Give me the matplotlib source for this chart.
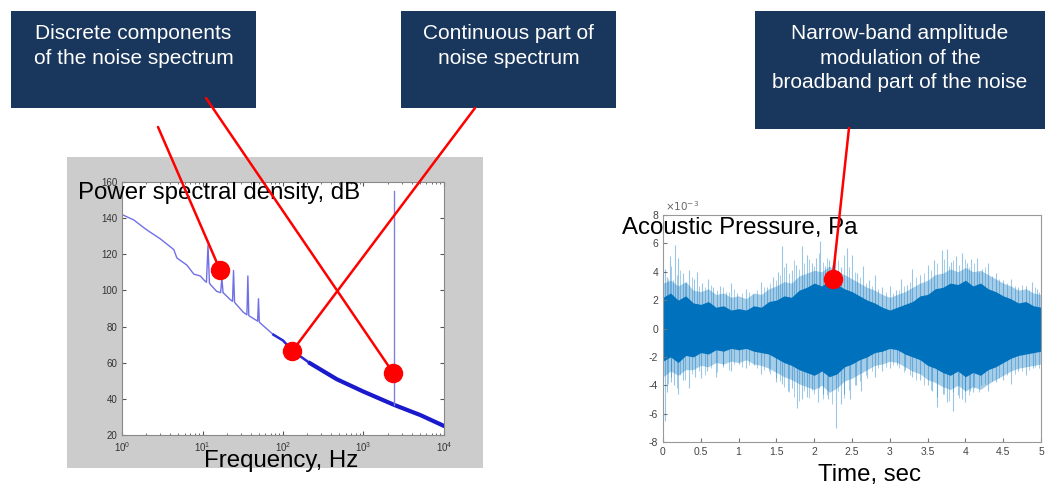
#!/usr/bin/env python3
'''
Noise spectrum and noise time signal, with call-out boxes.
'''
import matplotlib
matplotlib.use('Agg')
import matplotlib.pyplot as plt
from matplotlib.patches import Rectangle, ConnectionPatch
from matplotlib.ticker import LogLocator, NullFormatter
import numpy

plt.rcParams['font.family'] = ['Liberation Sans', 'DejaVu Sans']
plt.rcParams['axes.unicode_minus'] = False

# ---- power spectral density (left) ----
psd_f = [1, 1.4, 2, 3, 4.4, 4.8, 6.4, 7.8, 9.4, 10.5, 11.2, 11.7, 12.2, 12.7,
         15, 16.8, 17.4, 18.0, 18.3, 22, 23.6, 24.3, 25.0, 25.5, 32, 35.6,
         36.6, 37.6, 39, 48.4, 49.6, 50.8, 52, 76, 100, 131, 217, 464, 1000,
         2420, 5100, 10000]
psd_db = [142, 139, 133.7, 128.5, 122.6, 118, 114, 109, 108, 105.6, 104.5,
          125, 104, 103, 99.5, 98.8, 107, 98.6, 98.5, 95, 94, 111, 93.5, 93,
          88, 86.5, 108, 86, 85.6, 83, 95.4, 82.5, 82, 75.5, 72.3, 66.6, 59.7,
          50.9, 44, 36.6, 31, 25]
tone_f = 2420
tone_db = [36.6, 155]

# ---- acoustic pressure (right), units of 1e-3 Pa ----
core_t = [0.0, 0.1, 0.2, 0.3, 0.4, 0.5, 0.6, 0.7, 0.8, 0.9, 1.0, 1.1, 1.2,
          1.3, 1.4, 1.5, 1.6, 1.7, 1.8, 1.9, 2.0, 2.1, 2.2, 2.3, 2.4, 2.5,
          2.6, 2.7, 2.8, 2.9, 3.0, 3.1, 3.2, 3.3, 3.4, 3.5, 3.6, 3.7, 3.8,
          3.9, 4.0, 4.1, 4.2, 4.3, 4.4, 4.5, 4.6, 4.7, 4.8, 4.9, 5.0]
core_hi = [2.2, 2.5, 2.0, 2.3, 1.8, 1.7, 1.9, 1.5, 1.6, 1.3, 1.4, 1.3, 1.6,
           1.5, 1.9, 2.0, 2.3, 2.2, 2.7, 2.9, 3.2, 3.0, 3.4, 3.1, 2.8, 2.6,
           2.3, 2.0, 1.8, 1.5, 1.3, 1.5, 1.7, 1.9, 2.3, 2.4, 2.8, 2.9, 3.2,
           3.1, 3.4, 3.0, 3.2, 2.8, 2.6, 2.3, 2.1, 1.8, 1.9, 1.6, 1.5]
core_lo = [-2.3, -2.0, -2.4, -1.9, -2.0, -1.7, -1.8, -1.5, -1.6, -1.4, -1.5,
           -1.4, -1.6, -1.7, -1.8, -2.1, -2.4, -2.6, -2.9, -3.1, -3.3, -3.0,
           -3.4, -3.2, -2.7, -2.5, -2.2, -2.0, -1.7, -1.6, -1.4, -1.5, -1.8,
           -2.0, -2.2, -2.6, -2.8, -3.1, -3.3, -3.0, -3.4, -3.1, -3.3, -2.9,
           -2.7, -2.4, -2.1, -1.9, -1.8, -1.7, -1.6]
mid_hi = [3.2, 3.4, 3.0, 3.3, 2.7, 2.6, 2.8, 2.4, 2.5, 2.2, 2.3, 2.1, 2.5,
          2.4, 2.8, 3.0, 3.3, 3.2, 3.7, 3.9, 4.1, 4.0, 4.4, 4.0, 3.8, 3.5,
          3.2, 2.9, 2.7, 2.4, 2.2, 2.4, 2.6, 2.9, 3.2, 3.4, 3.8, 3.9, 4.2,
          4.0, 4.3, 4.0, 4.1, 3.8, 3.5, 3.2, 3.0, 2.7, 2.8, 2.5, 2.4]
mid_lo = [-3.4, -3.0, -3.3, -2.9, -2.9, -2.6, -2.7, -2.4, -2.5, -2.3, -2.4,
          -2.2, -2.5, -2.6, -2.8, -3.1, -3.4, -3.6, -3.9, -4.1, -4.3, -4.0,
          -4.5, -4.2, -3.7, -3.5, -3.2, -2.9, -2.6, -2.5, -2.3, -2.4, -2.7,
          -3.0, -3.2, -3.6, -3.8, -4.1, -4.3, -4.0, -4.4, -4.1, -4.3, -3.9,
          -3.6, -3.3, -3.0, -2.8, -2.7, -2.6, -2.5]
up_t = [0.02, 0.05, 0.09, 0.13, 0.16, 0.2, 0.26, 0.31, 0.35, 0.41, 0.45,
        0.52, 0.6, 0.66, 0.75, 0.83, 0.9, 0.98, 1.1, 1.19, 1.3, 1.38, 1.45,
        1.52, 1.57, 1.63, 1.7, 1.76, 1.84, 1.9, 1.97, 2.03, 2.08, 2.14, 2.2,
        2.27, 2.35, 2.43, 2.5, 2.57, 2.64, 2.72, 2.8, 2.9, 3.0, 3.08, 3.15,
        3.23, 3.3, 3.4, 3.5, 3.58, 3.69, 3.75, 3.81, 3.87, 3.95, 4.02, 4.08,
        4.15, 4.22, 4.3, 4.4, 4.5, 4.6, 4.7, 4.8, 4.88, 4.95]
up_v = [4.2, 3.6, 5.1, 3.4, 5.9, 5.0, 3.9, 3.3, 4.1, 3.5, 4.0, 3.2, 3.5,
        2.9, 3.0, 2.6, 3.2, 2.5, 2.8, 2.4, 3.3, 2.9, 3.6, 4.0, 5.8, 4.6,
        4.1, 4.5, 5.8, 5.2, 4.6, 5.0, 6.2, 4.4, 4.8, 5.1, 4.3, 5.7, 5.2,
        3.9, 4.4, 3.4, 3.8, 2.9, 3.0, 2.7, 3.5, 3.1, 4.2, 3.8, 4.5, 4.8,
        5.5, 5.6, 4.7, 5.1, 5.3, 4.6, 4.9, 5.0, 4.2, 4.6, 3.9, 3.4, 3.5,
        2.9, 3.0, 3.3, 2.8]
dn_t = [0.03, 0.05, 0.1, 0.15, 0.2, 0.27, 0.35, 0.42, 0.5, 0.58, 0.7, 0.8,
        0.9, 1.0, 1.1, 1.2, 1.3, 1.4, 1.5, 1.58, 1.65, 1.71, 1.77, 1.84,
        1.9, 1.97, 2.05, 2.12, 2.18, 2.29, 2.35, 2.4, 2.47, 2.55, 2.62, 2.7,
        2.8, 2.9, 3.0, 3.1, 3.2, 3.3, 3.4, 3.5, 3.56, 3.62, 3.7, 3.76, 3.84,
        3.9, 3.96, 4.0, 4.06, 4.1, 4.2, 4.3, 4.4, 4.5, 4.6, 4.7, 4.8, 4.9]
dn_v = [-6.5, -4.5, -3.8, -4.0, -4.6, -3.6, -4.2, -3.4, -3.5, -3.0, -3.4,
        -2.7, -3.0, -2.5, -2.8, -2.6, -3.2, -3.0, -3.8, -3.9, -4.4, -4.2,
        -5.6, -5.0, -4.8, -4.3, -5.2, -4.6, -5.0, -7.0, -5.3, -4.6, -5.0,
        -4.0, -4.4, -3.5, -3.4, -3.0, -2.8, -2.6, -2.9, -3.4, -3.6, -4.0,
        -4.4, -5.5, -4.6, -5.2, -5.8, -4.7, -5.0, -5.2, -4.4, -4.5, -4.0,
        -4.4, -3.8, -3.6, -3.9, -3.0, -3.3, -2.8]
extra_t = [0.07, 0.11, 0.18, 0.23, 0.29, 0.38, 0.48, 0.56, 0.63, 0.71, 0.79,
           0.87, 0.94, 1.04, 1.14, 1.24, 1.34, 1.42, 1.49, 1.55, 1.6, 1.67,
           1.73, 1.8, 1.87, 1.93, 2.0, 2.06, 2.11, 2.17, 2.24, 2.31, 2.39,
           2.46, 2.54, 2.61, 2.68, 2.76, 2.85, 2.95, 3.04, 3.12, 3.19, 3.27,
           3.35, 3.45, 3.54, 3.63, 3.72, 3.78, 3.84, 3.91, 3.99, 4.05, 4.12,
           4.18, 4.26, 4.35, 4.45, 4.55, 4.65, 4.75, 4.84, 4.92, 4.98]
extra_hi = [3.5, 4.4, 3.8, 4.1, 3.2, 3.6, 3.0, 2.9, 3.1, 2.7, 2.9, 2.6, 2.8,
            2.5, 2.6, 2.7, 2.9, 3.2, 3.4, 3.8, 4.3, 3.9, 4.8, 4.2, 4.6, 4.9,
            4.4, 5.3, 4.7, 5.0, 4.5, 4.8, 5.2, 4.3, 4.0, 3.6, 3.2, 3.0, 2.8,
            2.6, 2.5, 2.7, 3.0, 3.3, 3.6, 3.9, 4.1, 4.6, 4.9, 4.4, 4.8, 4.5,
            4.9, 4.3, 4.6, 4.0, 4.3, 3.7, 3.5, 3.2, 3.0, 3.1, 2.7, 2.9, 2.6]
extra_lo = [-3.9, -3.4, -4.2, -3.3, -3.6, -3.2, -3.0, -3.3, -2.8, -3.1, -2.6,
            -2.9, -2.5, -2.7, -2.6, -2.8, -2.9, -3.2, -3.5, -3.7, -4.1, -4.5,
            -4.8, -5.1, -4.4, -4.9, -4.6, -4.2, -5.0, -4.7, -5.3, -4.4, -4.9,
            -4.3, -4.0, -3.7, -3.3, -3.0, -2.8, -2.7, -2.6, -2.8, -3.1, -3.3,
            -3.6, -4.0, -4.3, -4.8, -4.6, -5.1, -4.5, -4.9, -4.4, -4.7, -4.2,
            -4.5, -3.9, -3.7, -3.5, -3.3, -3.2, -3.0, -2.9, -2.7, -2.8]
time_ticks = [0, 0.5, 1, 1.5, 2, 2.5, 3, 3.5, 4, 4.5, 5]
time_labels = ['0', '0.5', '1', '1.5', '2', '2.5', '3', '3.5', '4', '4.5', '5']
pa_ticks = [-8, -6, -4, -2, 0, 2, 4, 6, 8]

# ---- call-outs ----
box_text = ["Discrete components\nof the noise spectrum",
            "Continuous part of\nnoise spectrum",
            "Narrow-band amplitude\nmodulation of the\nbroadband part of the noise"]

W, H = 1050.0, 486.0


def fx(px):
    return px / W


def fy(py):
    return 1 - py / H


fig = plt.figure(figsize=(10.5, 4.86), dpi=100)

# gray matlab figure panel behind the spectrum
fig.patches.append(Rectangle((fx(67), fy(468)), fx(416), 311 / H,
                             transform=fig.transFigure, facecolor='#cccccc',
                             edgecolor='none', zorder=-5))

# ---- left: spectrum ----
ax1 = fig.add_axes([fx(122), fy(435), fx(322), 253 / H])
ax1.set_facecolor('white')
ax1.semilogx(psd_f, psd_db, color='#7070e6', lw=1.0)
sel = [i for i, f in enumerate(psd_f) if f >= 76]
ax1.plot([psd_f[i] for i in sel], [psd_db[i] for i in sel],
         color='#2a2ad8', lw=1.8)
sel = [i for i, f in enumerate(psd_f) if f >= 217]
ax1.plot([psd_f[i] for i in sel], [psd_db[i] for i in sel],
         color='#1a1acc', lw=3.0)
ax1.plot([tone_f, tone_f], tone_db, color='#8080e0', lw=1.0)
ax1.set_xlim(1, 1e4)
ax1.set_ylim(20, 160)
ax1.set_yticks(range(20, 161, 20))
ax1.xaxis.set_major_locator(LogLocator(base=10, numticks=10))
ax1.xaxis.set_minor_locator(LogLocator(base=10, subs=numpy.arange(2, 10),
                                       numticks=50))
ax1.xaxis.set_minor_formatter(NullFormatter())
ax1.tick_params(which='both', direction='in', top=True, right=True,
                labelsize=7, colors='#555555', labelcolor='#333333')
ax1.tick_params(which='major', length=3)
ax1.tick_params(which='minor', length=1.5)
for s in ax1.spines.values():
    s.set_color('#888888')
    s.set_linewidth(0.8)

# ---- right: time signal ----
ax2 = fig.add_axes([fx(663), fy(442), fx(378), 227 / H])
ax2.fill_between(core_t, mid_lo, mid_hi, color='#0072BD', lw=0, alpha=0.35)
ax2.vlines(up_t, 0, up_v, color='#0072BD', lw=0.8, alpha=0.4)
ax2.vlines(dn_t, 0, dn_v, color='#0072BD', lw=0.8, alpha=0.4)
ax2.vlines(extra_t, extra_lo, extra_hi, color='#0072BD', lw=0.6, alpha=0.4)
ax2.fill_between(core_t, core_lo, core_hi, color='#0072BD', lw=0)
ax2.set_xlim(0, 5)
ax2.set_ylim(-8, 8)
ax2.set_xticks(time_ticks)
ax2.set_xticklabels(time_labels)
ax2.set_yticks(pa_ticks)
ax2.set_yticklabels([str(v) for v in pa_ticks])
ax2.text(0.005, 1.01, r'$\times10^{-3}$', transform=ax2.transAxes,
         fontsize=7.5, color='#666666', ha='left', va='bottom')
ax2.tick_params(direction='in', length=3, labelsize=7.5,
                colors='#777777', labelcolor='#444444')
for s in ax2.spines.values():
    s.set_color('#999999')
    s.set_linewidth(0.8)

# ---- axis captions, placed like the slide text ----
big = 17.3
fig.text(fx(78), fy(193), "Power spectral density, dB", fontsize=big,
         va='center', ha='left', zorder=5)
fig.text(fx(281), fy(461), "Frequency, Hz", fontsize=big,
         va='center', ha='center', zorder=5)
fig.text(fx(740), fy(228), "Acoustic Pressure, Pa", fontsize=big,
         va='center', ha='center', zorder=5)
fig.text(fx(870), fy(475), "Time, sec", fontsize=big,
         va='center', ha='center', zorder=5)

# ---- boxes ----
boxes = [(11, 11, 245, 97), (401, 11, 215, 97), (755, 11, 290, 118)]
for (x0, y0, w, h), txt in zip(boxes, box_text):
    fig.patches.append(Rectangle((fx(x0), fy(y0 + h)), fx(w), h / H,
                                 transform=fig.transFigure,
                                 facecolor='#19365c', edgecolor='none',
                                 zorder=2))
    fig.text(fx(x0 + w / 2.0), fy(24), txt, color='white', fontsize=15,
             ha='center', va='top', linespacing=1.38, zorder=3)

# ---- red pointers ----
pointers = [((158, 127), ax1, (16.6, 111.1)),
            ((206, 98), ax1, (2350, 54.2)),
            ((475, 108), ax1, (131, 66.6)),
            ((849, 128), ax2, (2.244, 3.49))]
for (px, py), ax, (dx, dy) in pointers:
    con = ConnectionPatch(xyA=(fx(px), fy(py)), coordsA='figure fraction',
                          xyB=(dx, dy), coordsB=ax.transData,
                          color='#ff0000', lw=1.8, zorder=6)
    fig.add_artist(con)
    ax.plot([dx], [dy], 'o', color='#ff0000', markersize=13, zorder=10,
            clip_on=False)

fig.savefig('out.png', dpi=100)
